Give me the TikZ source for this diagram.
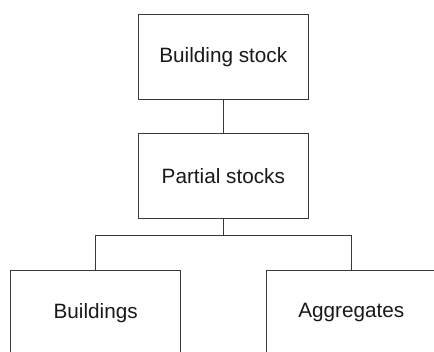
\documentclass[tikz,border=0pt]{standalone}
\usepackage{fontspec}
\setmainfont{Liberation Sans}
\begin{document}
\begin{tikzpicture}[x=1bp,y=-1bp,
  box/.style={draw=black!78,line width=1bp,rectangle,inner sep=0pt,outer sep=0pt,
    minimum width=170.5bp,minimum height=85bp,font=\fontsize{20.8}{24}\selectfont,text=black!90},
  link/.style={draw=black!78,line width=1bp}]
\clip (0,0) rectangle (434,351);
\fill[white] (0,0) rectangle (434,351);
\node[box] (stock) at (223.3,56.8) {Building stock};
\node[box] (partial) at (223.3,176.2) {Partial stocks};
\node[box] (bldg) at (95.7,312.8) {Buildings};
\node[box] (agg) at (351.3,312.8) {Aggregates};
\coordinate (j) at (223.3,235.3);
\draw[link] (stock) -- (partial);
\draw[link] (partial) -- (j);
\draw[link] (j) -| (bldg.north);
\draw[link] (j) -| (agg.north);
\end{tikzpicture}
\end{document}
